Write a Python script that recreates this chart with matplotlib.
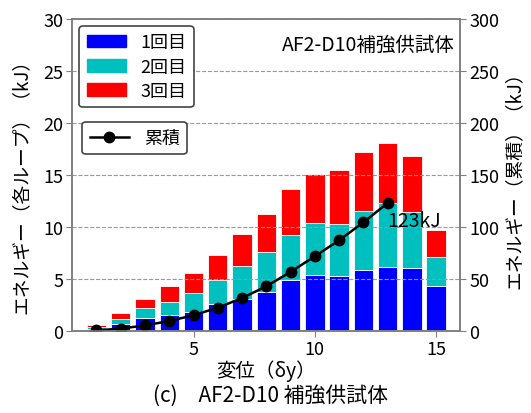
import numpy as np
import matplotlib
matplotlib.use('Agg')
import matplotlib.pyplot as plt
from matplotlib.patches import Patch
from matplotlib.lines import Line2D

plt.rcParams['font.family'] = ['Noto Sans CJK JP', 'DejaVu Sans']

# loop number (displacement / delta y)
disp = [1, 2, 3, 4, 5, 6, 7, 8, 9, 10, 11, 12, 13, 14, 15]
# energy per loop (kJ)
e1 = [0.20, 0.72, 1.28, 1.50, 1.85, 2.62, 3.12, 3.78, 4.92, 5.40, 5.27, 5.88, 6.17, 6.01, 4.31]
e2 = [0.15, 0.42, 0.97, 1.27, 1.85, 2.27, 3.09, 3.81, 4.34, 5.02, 5.05, 5.70, 6.15, 5.47, 2.83]
e3 = [0.20, 0.56, 0.87, 1.51, 1.83, 2.38, 3.11, 3.70, 4.41, 4.63, 5.18, 5.62, 5.75, 5.37, 2.60]
# cumulative energy (kJ)
cum_x = [1, 2, 3, 4, 5, 6, 7, 8, 9, 10, 11, 12, 13]
cum = [0.6, 2.3, 5.4, 9.6, 15.2, 22.4, 31.7, 43.0, 56.8, 71.8, 87.2, 104.4, 123]

fig = plt.figure(figsize=(5.31, 4.14), dpi=100)
ax = fig.add_axes([0.136, 0.198, 0.731, 0.754])
ax2 = ax.twinx()

b1 = np.array(e1)
b2 = np.array(e2)
ax.bar(disp, e1, width=0.8, color='#0000ff', edgecolor='white', linewidth=0.6)
ax.bar(disp, e2, width=0.8, bottom=b1, color='#00bfbf', edgecolor='white', linewidth=0.6)
ax.bar(disp, e3, width=0.8, bottom=b1 + b2, color='#ff0000', edgecolor='white', linewidth=0.6)

ax2.plot(cum_x, cum, color='black', marker='o', markersize=7.5, linewidth=1.8)
ax2.text(cum_x[-1] + 0.0, cum[-1] - 17, '%dkJ' % round(cum[-1]), fontsize=14, va='center', ha='left')

ax.set_xlim(0, 16)
ax.set_ylim(0, 30)
ax2.set_ylim(0, 300)
ax.set_xticks([5, 10, 15])
ax.set_yticks([0, 5, 10, 15, 20, 25, 30])
ax2.set_yticks([0, 50, 100, 150, 200, 250, 300])

ax2.grid(axis='y', linestyle='--', color='#999999', linewidth=0.8)

for a in (ax, ax2):
    a.tick_params(labelsize=13, color='gray', length=4, pad=2.5)
    for s in a.spines.values():
        s.set_color('gray')
        s.set_linewidth(1.2)

ax.set_xlabel('変位（δy）', fontsize=14, labelpad=1)
ax.set_ylabel('エネルギー（各ループ）（kJ）', fontsize=13.5)
ax.yaxis.set_label_coords(-0.105, 0.48)
ax2.set_ylabel('エネルギー（累積）（kJ）', fontsize=13.5, labelpad=3)

ax2.text(0.985, 0.92, 'AF2-D10補強供試体', transform=ax2.transAxes, fontsize=14, ha='right', va='center')

bar_handles = [Patch(color='#0000ff'), Patch(color='#00bfbf'), Patch(color='#ff0000')]
leg1 = ax2.legend(bar_handles, ['1回目', '2回目', '3回目'], loc='upper left', fontsize=13,
                  framealpha=1, edgecolor='#444444', fancybox=True, borderaxespad=0.4,
                  handlelength=2.2, labelspacing=0.35)
leg1.get_frame().set_linewidth(1.2)
ax2.add_artist(leg1)
line_handle = Line2D([], [], color='black', marker='o', markersize=7.5, linewidth=1.8)
leg2 = ax2.legend([line_handle], ['累積'], loc='upper left', bbox_to_anchor=(0.026, 0.67),
                  borderaxespad=0, fontsize=13, framealpha=1, edgecolor='#444444', fancybox=True,
                  handlelength=2.2)
leg2.get_frame().set_linewidth(1.2)

fig.text(0.51, 0.045, '(c)　AF2-D10 補強供試体', fontsize=15, ha='center', va='center')

fig.savefig('out.png', dpi=100)
